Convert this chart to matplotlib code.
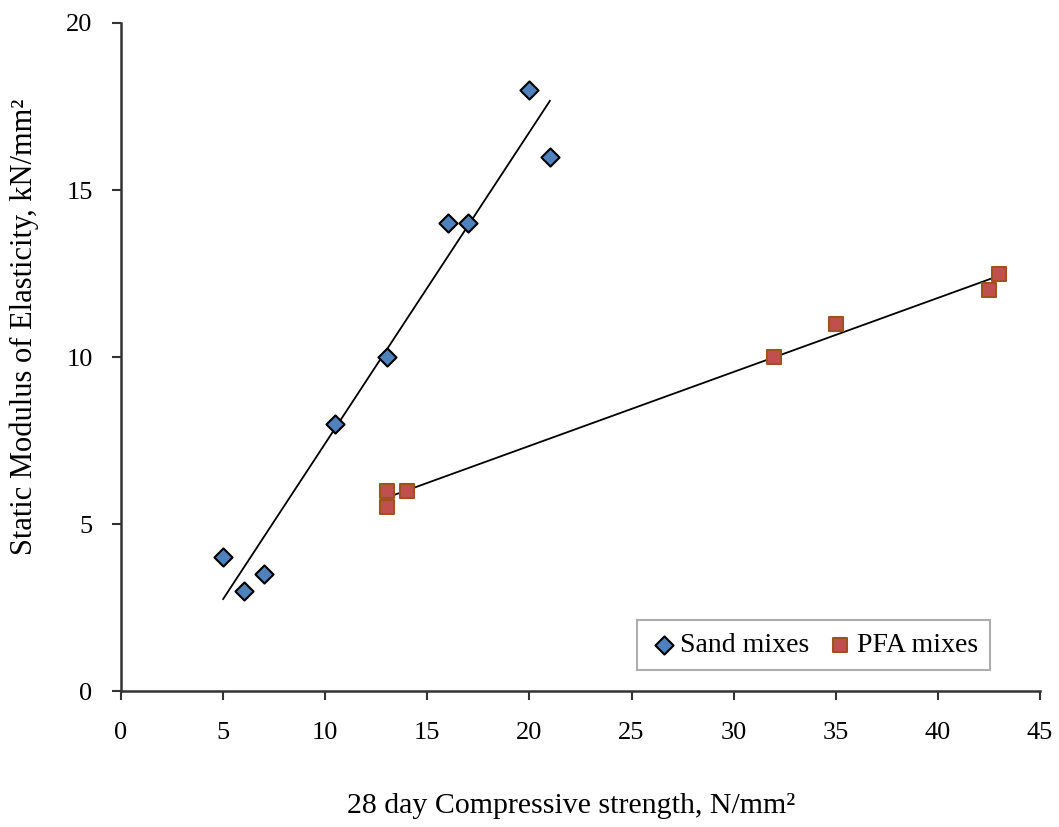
import matplotlib
matplotlib.use("Agg")
import matplotlib.pyplot as plt
import numpy as np

sand_x = [5, 6, 7, 10.5, 13, 16, 17, 20, 21]
sand_y = [4, 3, 3.5, 8, 10, 14, 14, 18, 16]
pfa_x = [13, 13, 14, 32, 35, 42.5, 43]
pfa_y = [6, 5.5, 6, 10, 11, 12, 12.5]
x_ticks = [0, 5, 10, 15, 20, 25, 30, 35, 40, 45]
y_ticks = [0, 5, 10, 15, 20]

plt.rcParams['font.family'] = ['Liberation Serif', 'DejaVu Serif']
fig = plt.figure(figsize=(10.59, 8.27), dpi=100)
ax = fig.add_axes([0.1143, 0.1644, 0.8677, 0.8078])

ax.scatter(sand_x, sand_y, marker='D', s=85, c='#4F81BD', edgecolors='black',
           linewidths=1.5, zorder=3, label='Sand mixes')
ax.scatter(pfa_x, pfa_y, marker='s', s=105, c='#C0504D', edgecolors='#A0521D',
           linewidths=1.5, zorder=3, label='PFA mixes')

for xs, ys in ((sand_x, sand_y), (pfa_x, pfa_y)):
    p = np.polyfit(xs, ys, 1)
    xx = np.array([min(xs), max(xs)])
    ax.plot(xx, np.polyval(p, xx), color='black', lw=1.3, zorder=2)

ax.set_xlim(0, 45)
ax.set_ylim(0, 20)
ax.set_xticks(x_ticks)
ax.set_yticks(y_ticks)
ax.tick_params(direction='out', length=6.5, width=1.5, labelsize=19,
               color='#333333', labelcolor='black')
ax.tick_params(axis='x', pad=16)
ax.tick_params(axis='y', pad=14)
for s in ('top', 'right'):
    ax.spines[s].set_visible(False)
for s in ('left', 'bottom'):
    ax.spines[s].set_linewidth(1.8)
    ax.spines[s].set_color('#333333')

ax.set_xlabel('28 day Compressive strength, N/mm²', fontsize=21.5)
ax.set_ylabel('Static Modulus of Elasticity, kN/mm²', fontsize=22)
ax.xaxis.set_label_coords(0.49, -0.152)
ax.yaxis.set_label_coords(-0.089, 0.545)

leg = ax.legend(loc='lower right', bbox_to_anchor=(0.946, 0.031), ncol=2,
                fontsize=20, frameon=True, fancybox=False, handletextpad=0.1,
                columnspacing=0.6, borderpad=0.45, handlelength=1.0,
                borderaxespad=0)
leg.get_frame().set_edgecolor('#999999')
leg.get_frame().set_linewidth(1.5)

fig.savefig('out.png', dpi=100)
